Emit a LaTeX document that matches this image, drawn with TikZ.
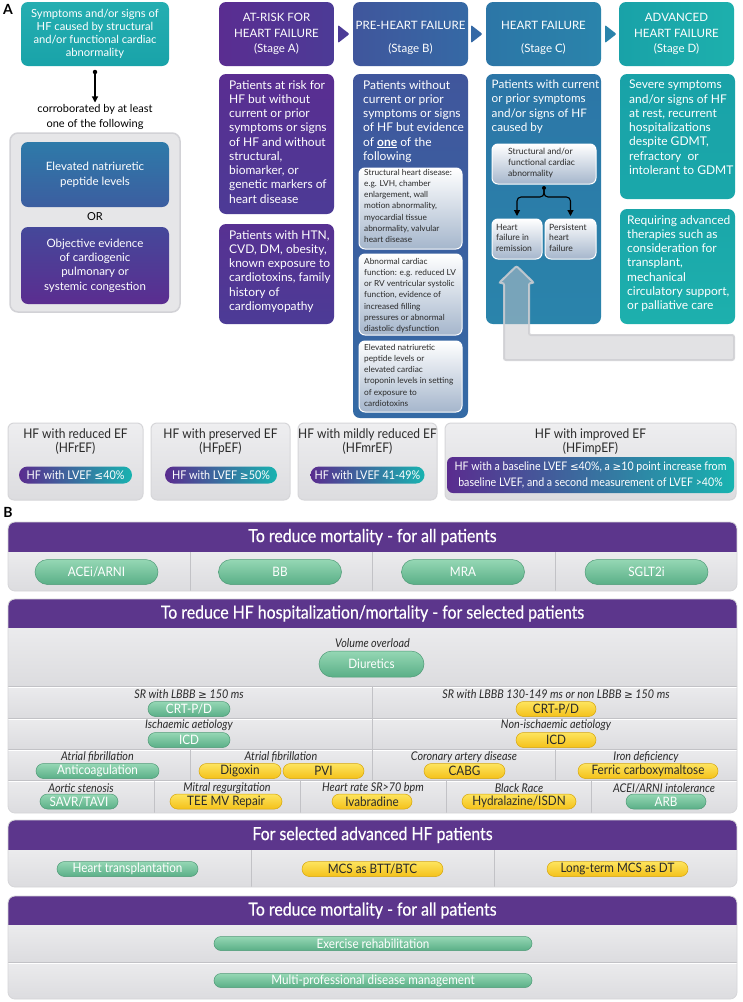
\documentclass[tikz,border=0pt]{standalone}
\usepackage{fontspec}
\setmainfont{Lato}
\newfontfamily\cond[FakeStretch=0.9]{Lato}
\newfontfamily\condh[FakeStretch=0.88,FakeBold=0.5]{Lato}
\newfontfamily\symf[Scale=0.88]{DejaVu Sans}
\usetikzlibrary{arrows.meta,shapes.misc}
\newcommand{\myle}{{\symf\char"2264}}
\newcommand{\myge}{{\symf\char"2265}}
\definecolor{tealT}{HTML}{25AEB1}
\definecolor{tealB}{HTML}{19A3A9}
\definecolor{natT}{HTML}{2E7AA9}
\definecolor{natB}{HTML}{3C5EA0}
\definecolor{objT}{HTML}{45489A}
\definecolor{objB}{HTML}{5B2D90}
\definecolor{purA}{HTML}{5A2D91}
\definecolor{purA2}{HTML}{4C3B96}
\definecolor{bluB}{HTML}{40569C}
\definecolor{bluB2}{HTML}{3569A5}
\definecolor{bluC}{HTML}{2C76A7}
\definecolor{bluC2}{HTML}{2A84AB}
\definecolor{tlD}{HTML}{19A2A8}
\definecolor{tlD2}{HTML}{1DB0AD}
\definecolor{panelG}{HTML}{E6E6E8}
\definecolor{panelE}{HTML}{D2D2D6}
\definecolor{hdrP}{HTML}{5C368C}
\definecolor{rowT}{HTML}{EBEBED}
\definecolor{rowB}{HTML}{DCDCDF}
\definecolor{divC}{HTML}{C2C2C6}
\definecolor{gT}{HTML}{95D7B4}
\definecolor{gB}{HTML}{5AAF87}
\definecolor{gD}{HTML}{4E9A76}
\definecolor{yT}{HTML}{FDE45E}
\definecolor{yB}{HTML}{F4C11A}
\definecolor{yD}{HTML}{D7A60A}
\definecolor{inB}{HTML}{A5B6CC}
\definecolor{txtD}{HTML}{2A2A2A}
\definecolor{efP}{HTML}{5A2C8F}
\definecolor{efT}{HTML}{18B3B0}
\definecolor{efT1}{HTML}{EEEEF0}
\definecolor{efB1}{HTML}{DCDCDF}
\definecolor{efE}{HTML}{D6D6D9}
\definecolor{arrG}{HTML}{C6C6CA}
\definecolor{arrE}{HTML}{CFCFD3}
\tikzset{
 stagebox/.style={rounded corners=7pt, inner sep=0pt},
 hdrtxt/.style={text=white, align=center, font=\fontsize{11.5}{15.5}\selectfont, inner sep=0pt},
 desctxt/.style={text=white, align=left, font=\fontsize{12}{14.25}\selectfont, inner sep=0pt, anchor=north west},
 leftbox/.style={rounded corners=7pt, text=white, align=center, inner sep=0pt},
 innerbox/.style={rounded corners=6pt, top color=white, bottom color=inB, draw=white, line width=1pt, inner sep=0pt},
 smalltxt/.style={text=txtD, align=left, font=\fontsize{8.3}{11.2}\selectfont, inner sep=0pt, anchor=north west},
 efbox/.style={rounded corners=6pt, top color=efT1, bottom color=efB1, draw=efE, line width=1pt, inner sep=0pt},
 eftitle/.style={text=txtD, align=center, font=\cond\fontsize{13.3}{13.5}\selectfont, inner sep=0pt},
 efpill/.style={rounded rectangle, left color=efP, right color=efT, text=white, font=\cond\fontsize{12}{12}\selectfont, inner sep=0pt, minimum height=17pt},
 hdrB/.style={text=white, font=\condh\fontsize{18}{18}\selectfont, inner sep=0pt},
 lbl/.style={text=txtD, font=\cond\itshape\fontsize{12}{12}\selectfont, inner sep=0pt},
 gpill/.style={rounded rectangle, top color=gT, bottom color=gB, draw=gD, line width=0.5pt, text=white, font=\cond\fontsize{13}{13}\selectfont, inner sep=0pt},
 ypill/.style={rounded rectangle, top color=yT, bottom color=yB, draw=yD, line width=0.5pt, text=txtD, font=\cond\fontsize{13}{13}\selectfont, inner sep=0pt},
 divline/.style={draw=divC, line width=0.9pt},
 arr/.style={line width=1.1pt, -{Triangle[length=6pt,width=6pt]}},
}
\begin{document}
\begin{tikzpicture}[x=1pt,y=-1pt]
\useasboundingbox (0,0) rectangle (743,1002);
\fill[white] (0,0) rectangle (743,1002);

% ---------------- A ----------------
\node[font=\bfseries\fontsize{14}{14}\selectfont, inner sep=0pt] (labA) at (8,9) {A};

\node[leftbox, top color=tealT, bottom color=tealB, minimum width=148, minimum height=64,
      font=\fontsize{11.2}{13.2}\selectfont] (sym) at (95,34)
  {Symptoms and/or signs of\\HF caused by structural\\and/or functional cardiac\\abnormality};
\node[circle, fill=black, inner sep=0pt, minimum size=4.5pt] (dotA) at (95,72) {};
\node[font=\fontsize{11}{14.5}\selectfont, align=center, inner sep=0pt] (corr) at (95,117)
  {corroborated by at least\\one of the following};
\draw[arr, shorten >=2pt] (dotA) -- (corr.north);

\node[draw=panelE, fill=panelG, line width=1.5pt, rounded corners=8pt, minimum width=170, minimum height=179, inner sep=0pt] (grp) at (95,222.5) {};
\node[leftbox, top color=natT, bottom color=natB, minimum width=148, minimum height=65,
      font=\fontsize{11.5}{15}\selectfont] (nat) at (95,174.5)
  {Elevated natriuretic\\peptide levels};
\node[font=\fontsize{11}{12}\selectfont, inner sep=0pt] (orl) at (95,217) {OR};
\node[leftbox, top color=objT, bottom color=objB, minimum width=148, minimum height=77,
      font=\fontsize{11.5}{14.4}\selectfont] (obj) at (95,265.5)
  {Objective evidence\\of cardiogenic\\pulmonary or\\systemic congestion};

% stage headers
\node[stagebox, left color=purA, right color=purA2, minimum width=115, minimum height=64] (sa) at (276.5,34) {};
\node[hdrtxt] (sat) at (276.5,34) {AT-RISK FOR\\HEART FAILURE\\(Stage A)};
\node[stagebox, left color=bluB, right color=bluB2, minimum width=115, minimum height=64] (sb) at (410.5,34) {};
\node[hdrtxt] (sbt) at (410.5,37.5) {PRE-HEART FAILURE\\[7.5pt](Stage B)};
\node[stagebox, left color=bluC, right color=bluC2, minimum width=115, minimum height=64] (sc) at (543.5,34) {};
\node[hdrtxt] (sct) at (543.5,37.5) {HEART FAILURE\\[7.5pt](Stage C)};
\node[stagebox, left color=tlD, right color=tlD2, minimum width=115, minimum height=64] (sd) at (676.5,34) {};
\node[hdrtxt] (sdt) at (676.5,34) {ADVANCED\\HEART FAILURE\\(Stage D)};
\fill[purA2, rounded corners=1pt] (338,25) -- (349.5,34) -- (338,43) -- cycle;
\fill[bluB2, rounded corners=1pt] (471,25) -- (482.5,34) -- (471,43) -- cycle;
\fill[bluC2, rounded corners=1pt] (605,25) -- (616.5,34) -- (605,43) -- cycle;

% stage A
\node[stagebox, top color=purA, bottom color=purA2, minimum width=115, minimum height=140] (sa1) at (276.5,144) {};
\node[desctxt] (sa1t) at (229,80) {Patients at risk for\\HF but without\\current or prior\\symptoms or signs\\of HF and without\\structural,\\biomarker, or\\genetic markers of\\heart disease};
\node[stagebox, top color=purA!90!bluB, bottom color=purA2, minimum width=115, minimum height=100] (sa2) at (276.5,274) {};
\node[desctxt] (sa2t) at (229,230) {Patients with HTN,\\CVD, DM, obesity,\\known exposure to\\cardiotoxins, family\\history of\\cardiomyopathy};

% stage B
\node[stagebox, top color=bluB, bottom color=bluB2!90!bluC, minimum width=115, minimum height=344] (sb1) at (410.5,246) {};
\node[desctxt] (sb1t) at (363,80) {Patients without\\current or prior\\symptoms or signs\\of HF but evidence\\of \underline{\textbf{one}} of the\\following};
\node[innerbox, minimum width=103, minimum height=81] (b1) at (410.5,208.5) {};
\node[smalltxt] (b1t) at (364,169) {Structural heart disease:\\e.g. LVH, chamber\\enlargement, wall\\motion abnormality,\\myocardial tissue\\abnormality, valvular\\heart disease};
\node[innerbox, minimum width=103, minimum height=81] (b2) at (410.5,294.5) {};
\node[smalltxt] (b2t) at (364,258) {Abnormal cardiac\\function: e.g. reduced LV\\or RV ventricular systolic\\function, evidence of\\increased filling\\pressures or abnormal\\diastolic dysfunction};
\node[innerbox, minimum width=103, minimum height=71] (b3) at (410.5,376.5) {};
\node[smalltxt] (b3t) at (364,344) {Elevated natriuretic\\peptide levels or\\elevated cardiac\\troponin levels in setting\\of exposure to\\cardiotoxins};

% stage C
\node[stagebox, top color=bluC, bottom color=bluC2, minimum width=115, minimum height=250] (sc1) at (543.5,199) {};
\node[desctxt, font=\fontsize{11.7}{14.1}\selectfont] (sc1t) at (491.5,80) {Patients with current\\or prior symptoms\\and/or signs of HF\\caused by};
\filldraw[fill=arrG, fill opacity=0.5, draw=arrE, draw opacity=0.85, line width=2pt, rounded corners=2pt]
  (516.5,266) -- (534,283) -- (529,283) -- (529,335) -- (734,335) -- (734,360) -- (504,360) -- (504,283) -- (499,283) -- cycle;
\node[innerbox, minimum width=104, minimum height=40] (st) at (544,164) {};
\node[smalltxt, font=\fontsize{8.6}{11}\selectfont] (stt) at (508,148) {Structural and/or\\functional cardiac\\abnormality};
\node[circle, fill=black, inner sep=0pt, minimum size=4pt] (dotC) at (544,188) {};
\node[innerbox, minimum width=50, minimum height=40] (rem) at (517,239) {};
\node[smalltxt, font=\fontsize{8.6}{10.5}\selectfont] (remt) at (496,224) {Heart\\failure in\\remission};
\node[innerbox, minimum width=51, minimum height=40] (per) at (570.5,239) {};
\node[smalltxt, font=\fontsize{8.6}{10.5}\selectfont] (pert) at (549,224) {Persistent\\heart\\failure};
\draw[arr, rounded corners=4pt, shorten >=2.5pt] (dotC) -- ++(0,9) -| (rem.north);
\draw[arr, rounded corners=4pt, shorten >=2.5pt] (dotC) -- ++(0,9) -| (per.north);

% stage D
\node[stagebox, top color=tlD, bottom color=tlD!60!tlD2, minimum width=115, minimum height=125] (sd1) at (677.5,136.5) {};
\node[desctxt] (sd1t) at (629,80) {Severe symptoms\\and/or signs of HF\\at rest, recurrent\\hospitalizations\\despite GDMT,\\refractory~ or\\intolerant to GDMT};
\node[stagebox, top color=tlD!70!tlD2, bottom color=tlD2, minimum width=115, minimum height=115] (sd2) at (677.5,266.5) {};
\node[desctxt] (sd2t) at (627,215) {Requiring advanced\\therapies such as\\consideration for\\transplant,\\mechanical\\circulatory support,\\or palliative care};

% EF row
\node[efbox, minimum width=135, minimum height=77] (ef1) at (75.5,461.5) {};
\node[eftitle] (ef1t) at (75.5,441.5) {HF with reduced EF\\(HFrEF)};
\node[efpill, minimum width=113] (ef1p) at (75.5,475) {HF with LVEF \myle40\%};
\node[efbox, minimum width=139, minimum height=77] (ef2) at (220.5,461.5) {};
\node[eftitle] (ef2t) at (220.5,441.5) {HF with preserved EF\\(HFpEF)};
\node[efpill, minimum width=112] (ef2p) at (221,475) {HF with LVEF \myge50\%};
\node[efbox, minimum width=139, minimum height=77] (ef3) at (367.5,461.5) {};
\node[eftitle] (ef3t) at (367.5,441.5) {HF with mildly reduced EF\\(HFmrEF)};
\node[efpill, minimum width=114] (ef3p) at (367.5,475) {HF with LVEF 41-49\%};
\node[efbox, minimum width=291, minimum height=77] (ef4) at (590.5,461.5) {};
\node[eftitle] (ef4t) at (590.5,441.5) {HF with improved EF\\(HFimpEF)};
\node[rounded corners=6pt, left color=efP, right color=efT, minimum width=287, minimum height=36, inner sep=0pt,
      text=white, align=center, font=\cond\fontsize{11.8}{16}\selectfont] (ef4p) at (590.5,475)
  {HF with a baseline LVEF \myle40\%, a \myge10 point increase from\\baseline LVEF, and a second measurement of LVEF >40\%};

% ---------------- B ----------------
\node[font=\bfseries\fontsize{14}{14}\selectfont, inner sep=0pt] (labB) at (8,512) {B};

% panel 1
\begin{scope}
\clip[rounded corners=7pt] (8,522) rectangle (737,591);
\fill[hdrP] (8,522) rectangle (737,552);
\shade[top color=rowT, bottom color=rowB] (8,552) rectangle (737,591);
\draw[divline] (190,552) -- (190,591) (372.5,552) -- (372.5,591) (555,552) -- (555,591);
\end{scope}
\draw[efE, line width=0.8pt, rounded corners=7pt] (8,522) rectangle (737,591);
\node[hdrB] (p1h) at (372.5,537) {To reduce mortality - for all patients};
\node[gpill, minimum width=123, minimum height=25] (acei) at (96.5,572) {ACEi/ARNI};
\node[gpill, minimum width=123, minimum height=25] (bb) at (280,572) {BB};
\node[gpill, minimum width=123, minimum height=25] (mra) at (463,572) {MRA};
\node[gpill, minimum width=123, minimum height=25] (sglt) at (646.5,572) {SGLT2i};

% panel 2
\begin{scope}
\clip[rounded corners=7pt] (8,599) rectangle (737,813);
\fill[hdrP] (8,599) rectangle (737,628);
\shade[top color=rowT, bottom color=rowB] (8,628) rectangle (737,686);
\shade[top color=rowT, bottom color=rowB] (8,686) rectangle (737,718);
\shade[top color=rowT, bottom color=rowB] (8,718) rectangle (737,749);
\shade[top color=rowT, bottom color=rowB] (8,749) rectangle (737,780);
\shade[top color=rowT, bottom color=rowB] (8,780) rectangle (737,813);
\draw[divline] (8,686) -- (737,686) (8,718) -- (737,718) (8,749) -- (737,749) (8,780) -- (737,780);
\draw[white, line width=0.8pt] (8,687.2) -- (737,687.2) (8,719.2) -- (737,719.2) (8,750.2) -- (737,750.2) (8,781.2) -- (737,781.2);
\draw[divline] (372.5,686) -- (372.5,749);
\draw[divline] (190,749) -- (190,780) (372.5,749) -- (372.5,780) (555,749) -- (555,780);
\draw[divline] (154,780) -- (154,813) (300,780) -- (300,813) (446,780) -- (446,813) (591,780) -- (591,813);
\end{scope}
\draw[efE, line width=0.8pt, rounded corners=7pt] (8,599) rectangle (737,813);
\node[hdrB] (p2h) at (372.5,613.5) {To reduce HF hospitalization/mortality - for selected patients};
\node[lbl] (vol) at (372.5,643) {Volume overload};
\node[gpill, minimum width=105, minimum height=26] (diu) at (371.5,664) {Diuretics};
\node[lbl] (sr1) at (189,694) {SR with LBBB \myge\ 150 ms};
\node[gpill, minimum width=82, minimum height=15] (crt1) at (189,709) {CRT-P/D};
\node[lbl] (sr2) at (556,694) {SR with LBBB 130-149 ms or non LBBB \myge\ 150 ms};
\node[ypill, minimum width=80, minimum height=15] (crt2) at (556,709) {CRT-P/D};
\node[lbl] (isc) at (189,725.5) {Ischaemic aetiology};
\node[gpill, minimum width=82, minimum height=15] (icd1) at (189,740) {ICD};
\node[lbl] (nisc) at (556,725.5) {Non-ischaemic aetiology};
\node[ypill, minimum width=80, minimum height=15] (icd2) at (556,740) {ICD};
\node[lbl] (af1) at (97.5,757) {Atrial fibrillation};
\node[gpill, minimum width=123, minimum height=15] (anti) at (97.5,771) {Anticoagulation};
\node[lbl] (af2) at (281,757) {Atrial fibrillation};
\node[ypill, minimum width=82, minimum height=15] (dig) at (240,771) {Digoxin};
\node[ypill, minimum width=81, minimum height=15] (pvi) at (323.5,771) {PVI};
\node[lbl] (cad) at (464,757) {Coronary artery disease};
\node[ypill, minimum width=81, minimum height=15] (cabg) at (464.5,771) {CABG};
\node[lbl] (iron) at (646,757) {Iron deficiency};
\node[ypill, minimum width=140, minimum height=15] (fer) at (648,771) {Ferric carboxymaltose};
\node[lbl] (aos) at (81,788) {Aortic stenosis};
\node[gpill, minimum width=78, minimum height=15] (savr) at (79,801.5) {SAVR/TAVI};
\node[lbl] (mitr) at (227,788) {Mitral regurgitation};
\node[ypill, minimum width=112, minimum height=15] (tee) at (226,801.5) {TEE MV Repair};
\node[lbl] (hr) at (373,788) {Heart rate SR>70 bpm};
\node[ypill, minimum width=80, minimum height=15] (iva) at (372,801.5) {Ivabradine};
\node[lbl] (blk) at (519,788) {Black Race};
\node[ypill, minimum width=114, minimum height=15] (hyd) at (519,801.5) {Hydralazine/ISDN};
\node[lbl] (ace) at (664,788) {ACEI/ARNI intolerance};
\node[gpill, minimum width=80, minimum height=15] (arb) at (666,801.5) {ARB};

% panel 3
\begin{scope}
\clip[rounded corners=7pt] (8,820) rectangle (737,887);
\fill[hdrP] (8,820) rectangle (737,850);
\shade[top color=rowT, bottom color=rowB] (8,850) rectangle (737,887);
\draw[divline] (251,850) -- (251,887) (494,850) -- (494,887);
\end{scope}
\draw[efE, line width=0.8pt, rounded corners=7pt] (8,820) rectangle (737,887);
\node[hdrB] (p3h) at (372.5,835) {For selected advanced HF patients};
\node[gpill, minimum width=141, minimum height=15] (htx) at (127.5,869) {Heart transplantation};
\node[ypill, minimum width=141, minimum height=15] (mcs) at (372.5,869) {MCS as BTT/BTC};
\node[ypill, minimum width=141, minimum height=15] (ltm) at (617.5,869) {Long-term MCS as DT};

% panel 4
\begin{scope}
\clip[rounded corners=7pt] (8,896) rectangle (737,999);
\fill[hdrP] (8,896) rectangle (737,925);
\shade[top color=rowT, bottom color=rowB] (8,925) rectangle (737,962);
\shade[top color=rowT, bottom color=rowB] (8,962) rectangle (737,999);
\draw[divline] (8,962) -- (737,962);
\draw[white, line width=0.8pt] (8,963.2) -- (737,963.2);
\end{scope}
\draw[efE, line width=0.8pt, rounded corners=7pt] (8,896) rectangle (737,999);
\node[hdrB] (p4h) at (372.5,910.5) {To reduce mortality - for all patients};
\node[gpill, minimum width=318, minimum height=14] (exr) at (373,943.5) {Exercise rehabilitation};
\node[gpill, minimum width=318, minimum height=14] (mpd) at (373,980.5) {Multi-professional disease management};
\end{tikzpicture}
\end{document}
